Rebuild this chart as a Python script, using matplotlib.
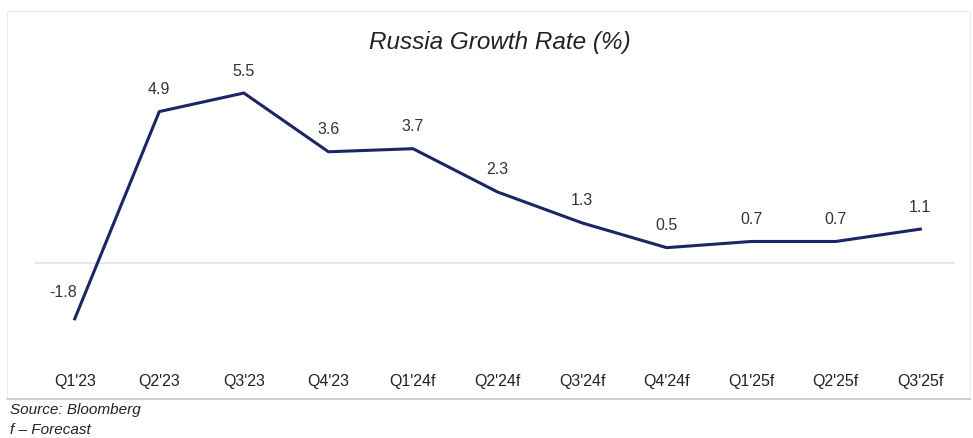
import matplotlib.pyplot as plt
from matplotlib.patches import Rectangle
from matplotlib.lines import Line2D

quarters = ["Q1'23", "Q2'23", "Q3'23", "Q4'23", "Q1'24f", "Q2'24f",
            "Q3'24f", "Q4'24f", "Q1'25f", "Q2'25f", "Q3'25f"]
growth = [-1.8, 4.9, 5.5, 3.6, 3.7, 2.3, 1.3, 0.5, 0.7, 0.7, 1.1]

plt.rcParams['font.family'] = ['Liberation Sans', 'DejaVu Sans']

W, H = 973, 439
fig = plt.figure(figsize=(W / 100, H / 100), dpi=100)
fig.patch.set_facecolor('white')

# chart frame
fig.add_artist(Rectangle((7 / W, 1 - 400 / H), 963 / W, 388 / H,
                         transform=fig.transFigure, fill=False,
                         edgecolor='#ececec', linewidth=0.8))
fig.add_artist(Line2D([7 / W, 970 / W], [1 - 400 / H, 1 - 400 / H],
                      transform=fig.transFigure, color='#c8c8c8', linewidth=1.2))

ax = fig.add_axes([35 / W, 1 - 360 / H, 920 / W, 300 / H])
x = list(range(len(quarters)))
ax.plot(x, growth, color='#1c2566', linewidth=2.2, solid_joinstyle='round')
ax.axhline(0, color='#e2e2e2', linewidth=1.2, zorder=0)

ax.set_xlim(-0.47, 10.41)
ax.set_ylim(-3.1, 6.6)
ax.set_xticks(x)
ax.set_xticklabels(quarters, fontsize=11.5, color='#222222')
ax.tick_params(axis='x', length=0, pad=10)
ax.set_yticks([])
for s in ax.spines.values():
    s.set_visible(False)

for i, v in enumerate(growth):
    dx = -12 if v < 0 else 0
    dy = 27 if v < 0 else 23
    ax.annotate(f"{v:.1f}", (i, v), xytext=(dx, dy), textcoords='offset pixels',
                ha='center', va='center', fontsize=11.5, color='#333333')

fig.text(500 / W, 1 - 42 / H, "Russia Growth Rate (%)", ha='center', va='center',
         fontsize=17.5, style='italic', color='#222222')
fig.text(10 / W, 1 - 410 / H, "Source: Bloomberg", ha='left', va='center',
         fontsize=11, style='italic', color='#222222')
fig.text(10 / W, 1 - 430 / H, "f \u2013 Forecast", ha='left', va='center',
         fontsize=11, style='italic', color='#222222')

fig.savefig('out.png', dpi=100)
